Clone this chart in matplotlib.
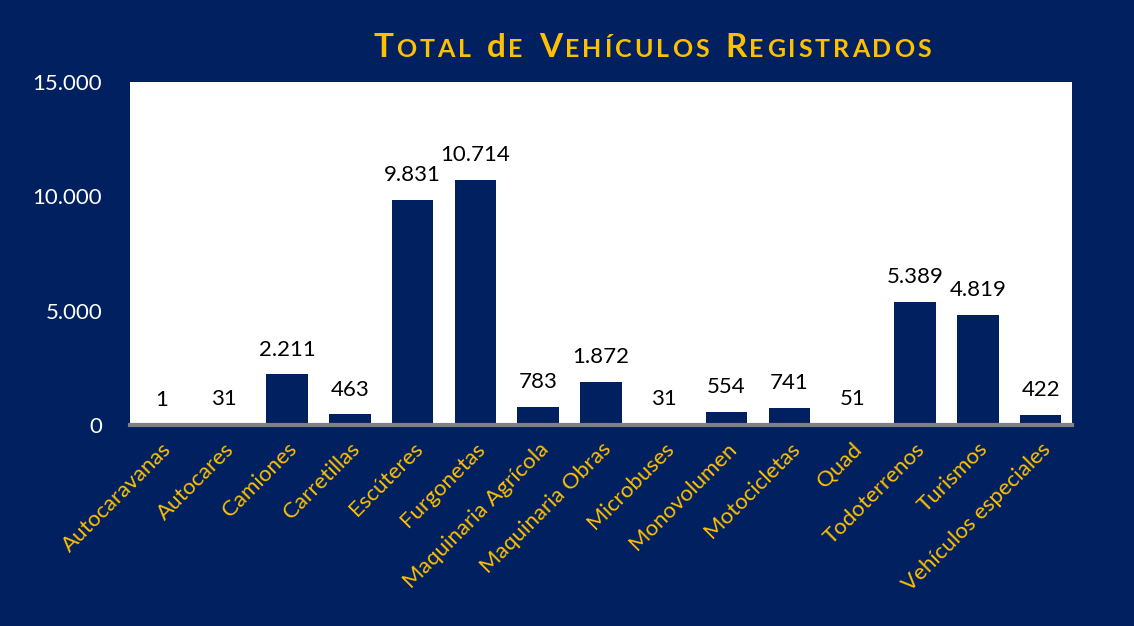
import matplotlib
matplotlib.use("Agg")
import matplotlib.pyplot as plt

plt.rcParams['font.family'] = ['Lato', 'DejaVu Sans']

categories = ["Autocaravanas", "Autocares", "Camiones", "Carretillas", "Escúteres",
              "Furgonetas", "Maquinaria Agrícola", "Maquinaria Obras", "Microbuses",
              "Monovolumen", "Motocicletas", "Quad", "Todoterrenos", "Turismos",
              "Vehículos especiales"]
values = [1, 31, 2211, 463, 9831, 10714, 783, 1872, 31, 554, 741, 51, 5389, 4819, 422]
yticks = [0, 5000, 10000, 15000]
title_words = ["Total", "de", "Vehículos", "Registrados"]

navy = "#002060"
gold = "#FFC000"

def fmt(v):
    return f"{v:,}".replace(",", ".")

fig = plt.figure(figsize=(11.34, 6.26), dpi=100, facecolor=navy)
ax = fig.add_axes([130/1134, 1 - 425/626, 942/1134, 343/626])
ax.set_facecolor("white")

x = range(len(categories))
ax.bar(x, values, width=0.66, color=navy, zorder=2)
for i, v in enumerate(values):
    ax.text(i, v + 650, fmt(v), ha="center", va="bottom", fontsize=16, color="black")

ax.set_xlim(-0.5, len(categories) - 0.5)
ax.set_ylim(0, 15000)
ax.set_yticks(yticks)
ax.set_yticklabels([fmt(t) for t in yticks], color="white", fontsize=16)
ax.set_xticks(list(x))
ax.set_xticklabels(categories, rotation=45, ha="right", rotation_mode="anchor",
                   color=gold, fontsize=16)
ax.tick_params(axis="x", length=0, pad=10)
ax.tick_params(axis="y", length=0, pad=20)
for s in ["top", "right", "left"]:
    ax.spines[s].set_visible(False)
ax.spines["bottom"].set_color("#808080")
ax.spines["bottom"].set_linewidth(3)

# title in small caps, drawn letter by letter
fig.canvas.draw()
renderer = fig.canvas.get_renderer()
big, small, spacing = 24, 18, 3.0
pieces = []
for w in title_words:
    for j, ch in enumerate(w):
        if j == 0:
            pieces.append((ch, big))
        else:
            pieces.append((ch.upper(), small))
    pieces.append((" ", small))
pieces = pieces[:-1]

xpos = 373
y_base = 626 - 57
for ch, size in pieces:
    t = fig.text(xpos / 1134, y_base / 626, ch, fontsize=size, fontweight="bold",
                 color=gold, ha="left", va="baseline", transform=fig.transFigure)
    if ch == " ":
        wpx = 10
    else:
        wpx = t.get_window_extent(renderer).width
    xpos += wpx + spacing

fig.savefig("out.png", dpi=100, facecolor=navy)
